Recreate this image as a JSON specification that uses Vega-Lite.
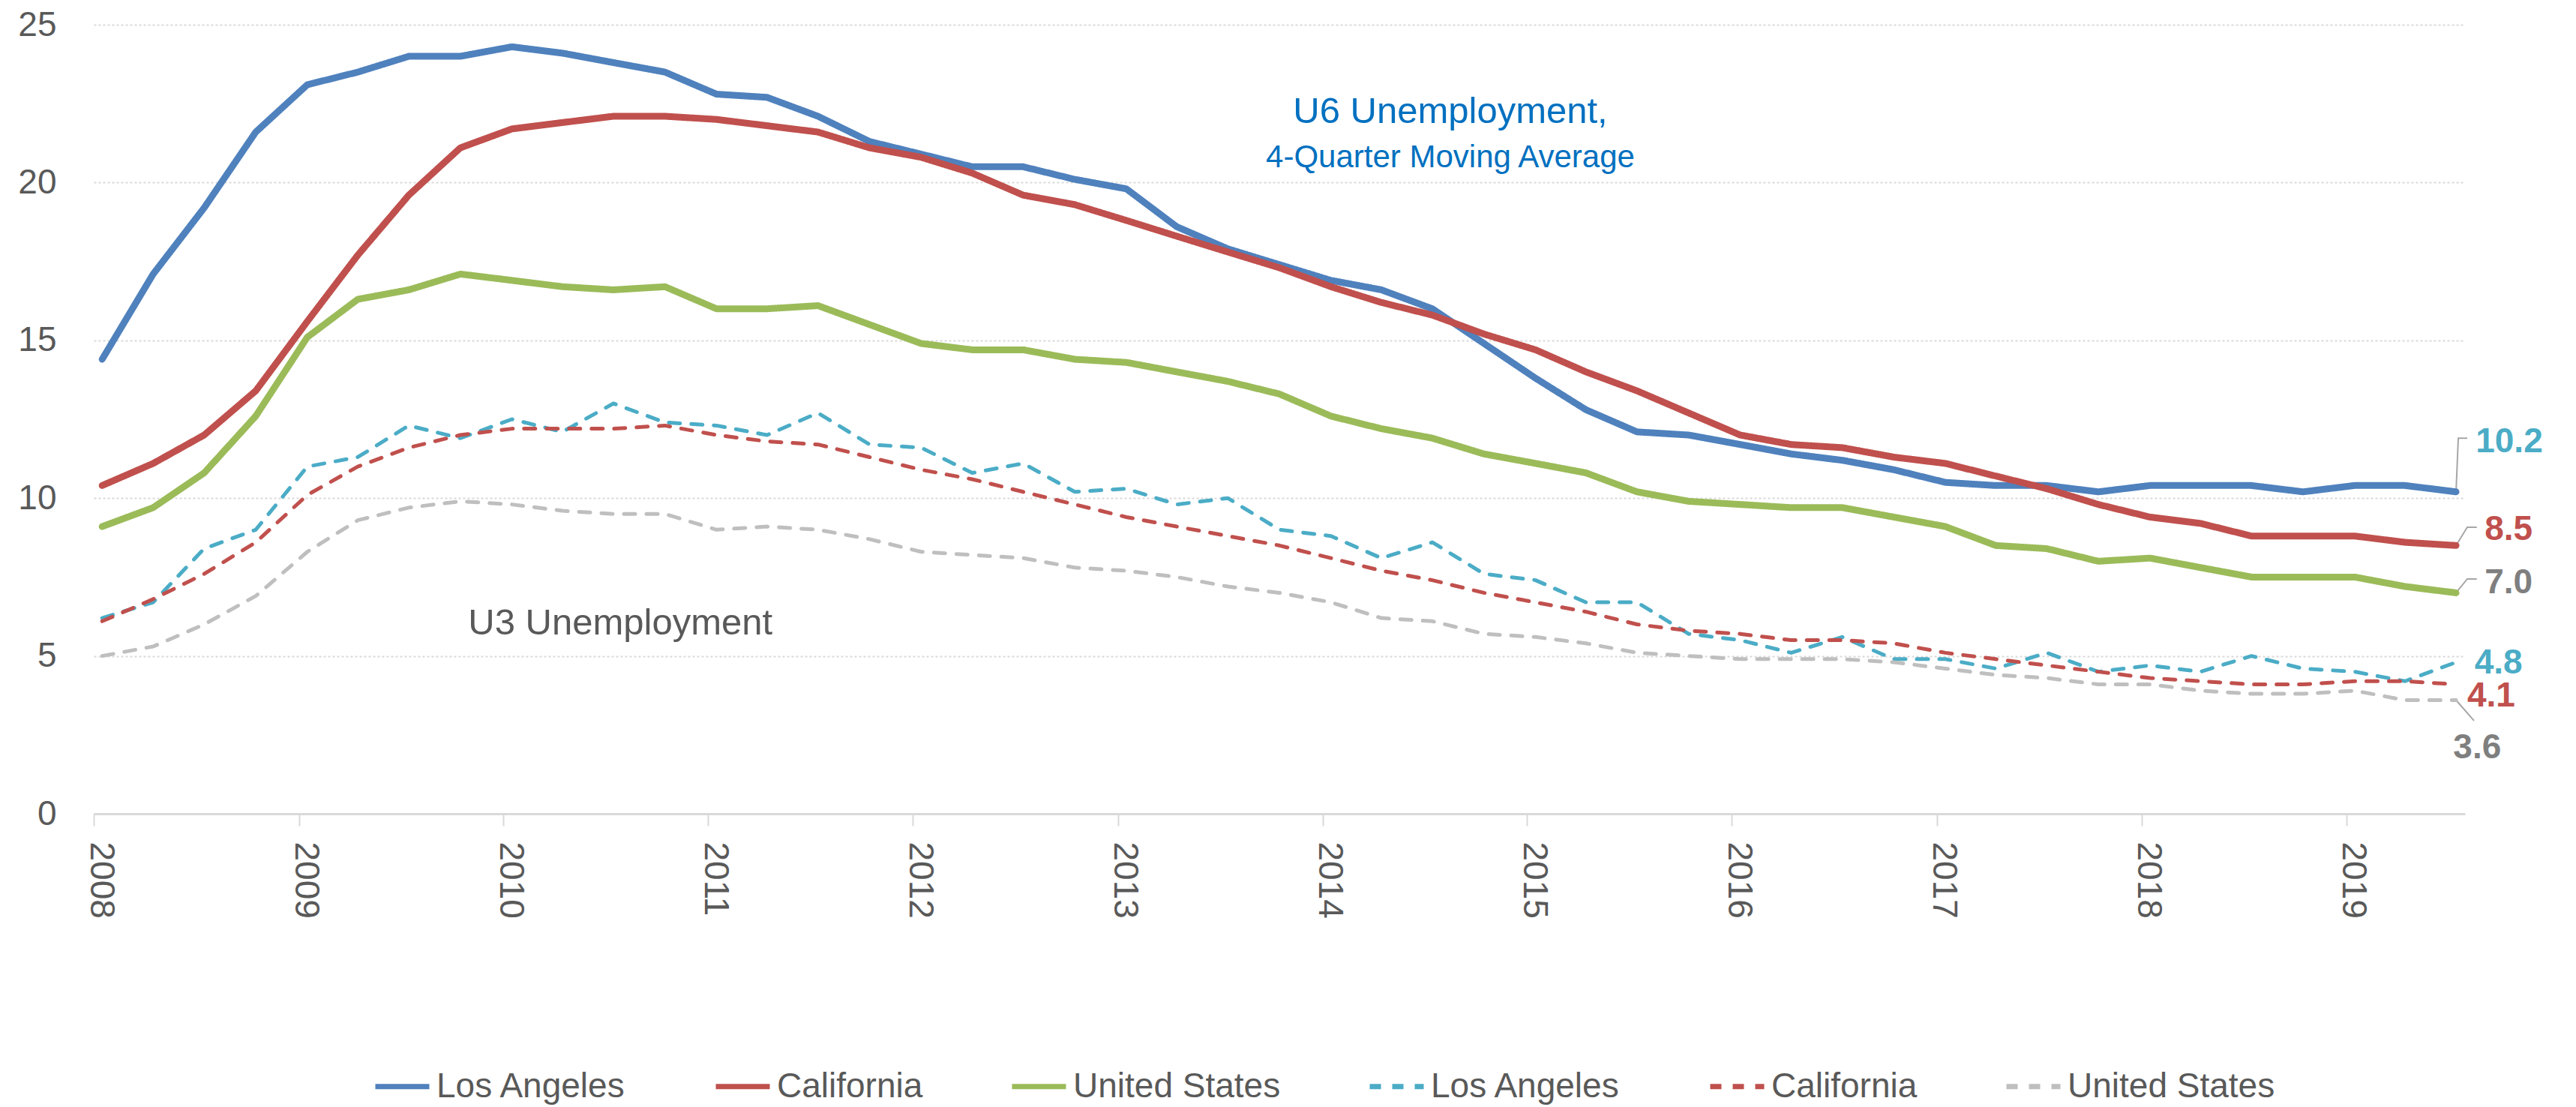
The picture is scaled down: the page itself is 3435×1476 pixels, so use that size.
{
"$schema": "https://vega.github.io/schema/vega-lite/v6.json",
"width": 3162,
"height": 1052,
"autosize": {"type": "none"},
"padding": {"left": 125, "top": 33, "right": 148, "bottom": 391},
"background": "white",
"config": {"view": {"stroke": null}, "font": "Liberation Sans"},
"encoding": {
  "x": {"field": "d", "type": "temporal",
    "scale": {"type": "utc", "domain": [{"year": 2008, "month": 1, "date": 1, "utc": true}, {"year": 2019, "month": 8, "date": 1, "utc": true}]},
    "axis": {"title": null, "format": "%Y", "values": [{"year": 2008, "utc": true}, {"year": 2009, "utc": true}, {"year": 2010, "utc": true}, {"year": 2011, "utc": true}, {"year": 2012, "utc": true}, {"year": 2013, "utc": true}, {"year": 2014, "utc": true}, {"year": 2015, "utc": true}, {"year": 2016, "utc": true}, {"year": 2017, "utc": true}, {"year": 2018, "utc": true}, {"year": 2019, "utc": true}], "labelAngle": 90, "labelFont": "Liberation Sans", "labelFontSize": 46, "labelColor": "#595959", "labelPadding": 21, "labelOffset": 9, "tickSize": 16, "tickColor": "#D9D9D9", "tickWidth": 2, "domainColor": "#D9D9D9", "domainWidth": 3, "grid": false, "labelOverlap": false, "labelFlush": false, "labelBound": false}},
  "y": {"field": "v", "type": "quantitative",
    "scale": {"domain": [0, 25], "nice": false},
    "axis": {"title": null, "values": [0, 5, 10, 15, 20, 25], "domain": false, "ticks": false, "labelPadding": 50, "labelFont": "Liberation Sans", "labelFontSize": 46, "labelColor": "#595959", "gridColor": "#D9D9D9", "gridDash": [3, 3], "gridWidth": 2}}
},
"layer": [
{
  "data": {"values": [
    {"k": "a", "d": "2019-07-16", "v": 10.2}, {"k": "a", "d": "2019-07-20", "v": 11.9}, {"k": "a", "d": "2019-08-05", "v": 11.9},
    {"k": "b", "d": "2019-07-16", "v": 8.5}, {"k": "b", "d": "2019-08-05", "v": 9.08}, {"k": "b", "d": "2019-08-22", "v": 9.08},
    {"k": "c", "d": "2019-07-16", "v": 7.0}, {"k": "c", "d": "2019-08-05", "v": 7.44}, {"k": "c", "d": "2019-08-22", "v": 7.44},
    {"k": "e", "d": "2019-07-16", "v": 3.6}, {"k": "e", "d": "2019-08-17", "v": 2.95}
  ]},
  "mark": {"type": "line", "color": "#A6A6A6", "strokeWidth": 2},
  "encoding": {"detail": {"field": "k"}}
},
{
  "data": {"values": [
{"d":"2008-01-16","s":"LA U6","v":14.4},{"d":"2008-04-16","s":"LA U6","v":17.1},{"d":"2008-07-16","s":"LA U6","v":19.2},{"d":"2008-10-16","s":"LA U6","v":21.6},
{"d":"2009-01-16","s":"LA U6","v":23.1},{"d":"2009-04-16","s":"LA U6","v":23.5},{"d":"2009-07-16","s":"LA U6","v":24.0},{"d":"2009-10-16","s":"LA U6","v":24.0},
{"d":"2010-01-16","s":"LA U6","v":24.3},{"d":"2010-04-16","s":"LA U6","v":24.1},{"d":"2010-07-16","s":"LA U6","v":23.8},{"d":"2010-10-16","s":"LA U6","v":23.5},
{"d":"2011-01-16","s":"LA U6","v":22.8},{"d":"2011-04-16","s":"LA U6","v":22.7},{"d":"2011-07-16","s":"LA U6","v":22.1},{"d":"2011-10-16","s":"LA U6","v":21.3},
{"d":"2012-01-16","s":"LA U6","v":20.9},{"d":"2012-04-16","s":"LA U6","v":20.5},{"d":"2012-07-16","s":"LA U6","v":20.5},{"d":"2012-10-16","s":"LA U6","v":20.1},
{"d":"2013-01-16","s":"LA U6","v":19.8},{"d":"2013-04-16","s":"LA U6","v":18.6},{"d":"2013-07-16","s":"LA U6","v":17.9},{"d":"2013-10-16","s":"LA U6","v":17.4},
{"d":"2014-01-16","s":"LA U6","v":16.9},{"d":"2014-04-16","s":"LA U6","v":16.6},{"d":"2014-07-16","s":"LA U6","v":16.0},{"d":"2014-10-16","s":"LA U6","v":14.9},
{"d":"2015-01-16","s":"LA U6","v":13.8},{"d":"2015-04-16","s":"LA U6","v":12.8},{"d":"2015-07-16","s":"LA U6","v":12.1},{"d":"2015-10-16","s":"LA U6","v":12.0},
{"d":"2016-01-16","s":"LA U6","v":11.7},{"d":"2016-04-16","s":"LA U6","v":11.4},{"d":"2016-07-16","s":"LA U6","v":11.2},{"d":"2016-10-16","s":"LA U6","v":10.9},
{"d":"2017-01-16","s":"LA U6","v":10.5},{"d":"2017-04-16","s":"LA U6","v":10.4},{"d":"2017-07-16","s":"LA U6","v":10.4},{"d":"2017-10-16","s":"LA U6","v":10.2},
{"d":"2018-01-16","s":"LA U6","v":10.4},{"d":"2018-04-16","s":"LA U6","v":10.4},{"d":"2018-07-16","s":"LA U6","v":10.4},{"d":"2018-10-16","s":"LA U6","v":10.2},
{"d":"2019-01-16","s":"LA U6","v":10.4},{"d":"2019-04-16","s":"LA U6","v":10.4},{"d":"2019-07-16","s":"LA U6","v":10.2},
{"d":"2008-01-16","s":"CA U6","v":10.4},{"d":"2008-04-16","s":"CA U6","v":11.1},{"d":"2008-07-16","s":"CA U6","v":12.0},{"d":"2008-10-16","s":"CA U6","v":13.4},
{"d":"2009-01-16","s":"CA U6","v":15.6},{"d":"2009-04-16","s":"CA U6","v":17.7},{"d":"2009-07-16","s":"CA U6","v":19.6},{"d":"2009-10-16","s":"CA U6","v":21.1},
{"d":"2010-01-16","s":"CA U6","v":21.7},{"d":"2010-04-16","s":"CA U6","v":21.9},{"d":"2010-07-16","s":"CA U6","v":22.1},{"d":"2010-10-16","s":"CA U6","v":22.1},
{"d":"2011-01-16","s":"CA U6","v":22.0},{"d":"2011-04-16","s":"CA U6","v":21.8},{"d":"2011-07-16","s":"CA U6","v":21.6},{"d":"2011-10-16","s":"CA U6","v":21.1},
{"d":"2012-01-16","s":"CA U6","v":20.8},{"d":"2012-04-16","s":"CA U6","v":20.3},{"d":"2012-07-16","s":"CA U6","v":19.6},{"d":"2012-10-16","s":"CA U6","v":19.3},
{"d":"2013-01-16","s":"CA U6","v":18.8},{"d":"2013-04-16","s":"CA U6","v":18.3},{"d":"2013-07-16","s":"CA U6","v":17.8},{"d":"2013-10-16","s":"CA U6","v":17.3},
{"d":"2014-01-16","s":"CA U6","v":16.7},{"d":"2014-04-16","s":"CA U6","v":16.2},{"d":"2014-07-16","s":"CA U6","v":15.8},{"d":"2014-10-16","s":"CA U6","v":15.2},
{"d":"2015-01-16","s":"CA U6","v":14.7},{"d":"2015-04-16","s":"CA U6","v":14.0},{"d":"2015-07-16","s":"CA U6","v":13.4},{"d":"2015-10-16","s":"CA U6","v":12.7},
{"d":"2016-01-16","s":"CA U6","v":12.0},{"d":"2016-04-16","s":"CA U6","v":11.7},{"d":"2016-07-16","s":"CA U6","v":11.6},{"d":"2016-10-16","s":"CA U6","v":11.3},
{"d":"2017-01-16","s":"CA U6","v":11.1},{"d":"2017-04-16","s":"CA U6","v":10.7},{"d":"2017-07-16","s":"CA U6","v":10.3},{"d":"2017-10-16","s":"CA U6","v":9.8},
{"d":"2018-01-16","s":"CA U6","v":9.4},{"d":"2018-04-16","s":"CA U6","v":9.2},{"d":"2018-07-16","s":"CA U6","v":8.8},{"d":"2018-10-16","s":"CA U6","v":8.8},
{"d":"2019-01-16","s":"CA U6","v":8.8},{"d":"2019-04-16","s":"CA U6","v":8.6},{"d":"2019-07-16","s":"CA U6","v":8.5},
{"d":"2008-01-16","s":"US U6","v":9.1},{"d":"2008-04-16","s":"US U6","v":9.7},{"d":"2008-07-16","s":"US U6","v":10.8},{"d":"2008-10-16","s":"US U6","v":12.6},
{"d":"2009-01-16","s":"US U6","v":15.1},{"d":"2009-04-16","s":"US U6","v":16.3},{"d":"2009-07-16","s":"US U6","v":16.6},{"d":"2009-10-16","s":"US U6","v":17.1},
{"d":"2010-01-16","s":"US U6","v":16.9},{"d":"2010-04-16","s":"US U6","v":16.7},{"d":"2010-07-16","s":"US U6","v":16.6},{"d":"2010-10-16","s":"US U6","v":16.7},
{"d":"2011-01-16","s":"US U6","v":16.0},{"d":"2011-04-16","s":"US U6","v":16.0},{"d":"2011-07-16","s":"US U6","v":16.1},{"d":"2011-10-16","s":"US U6","v":15.5},
{"d":"2012-01-16","s":"US U6","v":14.9},{"d":"2012-04-16","s":"US U6","v":14.7},{"d":"2012-07-16","s":"US U6","v":14.7},{"d":"2012-10-16","s":"US U6","v":14.4},
{"d":"2013-01-16","s":"US U6","v":14.3},{"d":"2013-04-16","s":"US U6","v":14.0},{"d":"2013-07-16","s":"US U6","v":13.7},{"d":"2013-10-16","s":"US U6","v":13.3},
{"d":"2014-01-16","s":"US U6","v":12.6},{"d":"2014-04-16","s":"US U6","v":12.2},{"d":"2014-07-16","s":"US U6","v":11.9},{"d":"2014-10-16","s":"US U6","v":11.4},
{"d":"2015-01-16","s":"US U6","v":11.1},{"d":"2015-04-16","s":"US U6","v":10.8},{"d":"2015-07-16","s":"US U6","v":10.2},{"d":"2015-10-16","s":"US U6","v":9.9},
{"d":"2016-01-16","s":"US U6","v":9.8},{"d":"2016-04-16","s":"US U6","v":9.7},{"d":"2016-07-16","s":"US U6","v":9.7},{"d":"2016-10-16","s":"US U6","v":9.4},
{"d":"2017-01-16","s":"US U6","v":9.1},{"d":"2017-04-16","s":"US U6","v":8.5},{"d":"2017-07-16","s":"US U6","v":8.4},{"d":"2017-10-16","s":"US U6","v":8.0},
{"d":"2018-01-16","s":"US U6","v":8.1},{"d":"2018-04-16","s":"US U6","v":7.8},{"d":"2018-07-16","s":"US U6","v":7.5},{"d":"2018-10-16","s":"US U6","v":7.5},
{"d":"2019-01-16","s":"US U6","v":7.5},{"d":"2019-04-16","s":"US U6","v":7.2},{"d":"2019-07-16","s":"US U6","v":7.0},
{"d":"2008-01-16","s":"LA U3","v":6.2},{"d":"2008-04-16","s":"LA U3","v":6.7},{"d":"2008-07-16","s":"LA U3","v":8.4},{"d":"2008-10-16","s":"LA U3","v":9.0},
{"d":"2009-01-16","s":"LA U3","v":11.0},{"d":"2009-04-16","s":"LA U3","v":11.3},{"d":"2009-07-16","s":"LA U3","v":12.3},{"d":"2009-10-16","s":"LA U3","v":11.9},
{"d":"2010-01-16","s":"LA U3","v":12.5},{"d":"2010-04-16","s":"LA U3","v":12.1},{"d":"2010-07-16","s":"LA U3","v":13.0},{"d":"2010-10-16","s":"LA U3","v":12.4},
{"d":"2011-01-16","s":"LA U3","v":12.3},{"d":"2011-04-16","s":"LA U3","v":12.0},{"d":"2011-07-16","s":"LA U3","v":12.7},{"d":"2011-10-16","s":"LA U3","v":11.7},
{"d":"2012-01-16","s":"LA U3","v":11.6},{"d":"2012-04-16","s":"LA U3","v":10.8},{"d":"2012-07-16","s":"LA U3","v":11.1},{"d":"2012-10-16","s":"LA U3","v":10.2},
{"d":"2013-01-16","s":"LA U3","v":10.3},{"d":"2013-04-16","s":"LA U3","v":9.8},{"d":"2013-07-16","s":"LA U3","v":10.0},{"d":"2013-10-16","s":"LA U3","v":9.0},
{"d":"2014-01-16","s":"LA U3","v":8.8},{"d":"2014-04-16","s":"LA U3","v":8.1},{"d":"2014-07-16","s":"LA U3","v":8.6},{"d":"2014-10-16","s":"LA U3","v":7.6},
{"d":"2015-01-16","s":"LA U3","v":7.4},{"d":"2015-04-16","s":"LA U3","v":6.7},{"d":"2015-07-16","s":"LA U3","v":6.7},{"d":"2015-10-16","s":"LA U3","v":5.7},
{"d":"2016-01-16","s":"LA U3","v":5.5},{"d":"2016-04-16","s":"LA U3","v":5.1},{"d":"2016-07-16","s":"LA U3","v":5.6},{"d":"2016-10-16","s":"LA U3","v":4.9},
{"d":"2017-01-16","s":"LA U3","v":4.9},{"d":"2017-04-16","s":"LA U3","v":4.6},{"d":"2017-07-16","s":"LA U3","v":5.1},{"d":"2017-10-16","s":"LA U3","v":4.5},
{"d":"2018-01-16","s":"LA U3","v":4.7},{"d":"2018-04-16","s":"LA U3","v":4.5},{"d":"2018-07-16","s":"LA U3","v":5.0},{"d":"2018-10-16","s":"LA U3","v":4.6},
{"d":"2019-01-16","s":"LA U3","v":4.5},{"d":"2019-04-16","s":"LA U3","v":4.2},{"d":"2019-07-16","s":"LA U3","v":4.8},
{"d":"2008-01-16","s":"CA U3","v":6.1},{"d":"2008-04-16","s":"CA U3","v":6.8},{"d":"2008-07-16","s":"CA U3","v":7.6},{"d":"2008-10-16","s":"CA U3","v":8.6},
{"d":"2009-01-16","s":"CA U3","v":10.1},{"d":"2009-04-16","s":"CA U3","v":11.0},{"d":"2009-07-16","s":"CA U3","v":11.6},{"d":"2009-10-16","s":"CA U3","v":12.0},
{"d":"2010-01-16","s":"CA U3","v":12.2},{"d":"2010-04-16","s":"CA U3","v":12.2},{"d":"2010-07-16","s":"CA U3","v":12.2},{"d":"2010-10-16","s":"CA U3","v":12.3},
{"d":"2011-01-16","s":"CA U3","v":12.0},{"d":"2011-04-16","s":"CA U3","v":11.8},{"d":"2011-07-16","s":"CA U3","v":11.7},{"d":"2011-10-16","s":"CA U3","v":11.3},
{"d":"2012-01-16","s":"CA U3","v":10.9},{"d":"2012-04-16","s":"CA U3","v":10.6},{"d":"2012-07-16","s":"CA U3","v":10.2},{"d":"2012-10-16","s":"CA U3","v":9.8},
{"d":"2013-01-16","s":"CA U3","v":9.4},{"d":"2013-04-16","s":"CA U3","v":9.1},{"d":"2013-07-16","s":"CA U3","v":8.8},{"d":"2013-10-16","s":"CA U3","v":8.5},
{"d":"2014-01-16","s":"CA U3","v":8.1},{"d":"2014-04-16","s":"CA U3","v":7.7},{"d":"2014-07-16","s":"CA U3","v":7.4},{"d":"2014-10-16","s":"CA U3","v":7.0},
{"d":"2015-01-16","s":"CA U3","v":6.7},{"d":"2015-04-16","s":"CA U3","v":6.4},{"d":"2015-07-16","s":"CA U3","v":6.0},{"d":"2015-10-16","s":"CA U3","v":5.8},
{"d":"2016-01-16","s":"CA U3","v":5.7},{"d":"2016-04-16","s":"CA U3","v":5.5},{"d":"2016-07-16","s":"CA U3","v":5.5},{"d":"2016-10-16","s":"CA U3","v":5.4},
{"d":"2017-01-16","s":"CA U3","v":5.1},{"d":"2017-04-16","s":"CA U3","v":4.9},{"d":"2017-07-16","s":"CA U3","v":4.7},{"d":"2017-10-16","s":"CA U3","v":4.5},
{"d":"2018-01-16","s":"CA U3","v":4.3},{"d":"2018-04-16","s":"CA U3","v":4.2},{"d":"2018-07-16","s":"CA U3","v":4.1},{"d":"2018-10-16","s":"CA U3","v":4.1},
{"d":"2019-01-16","s":"CA U3","v":4.2},{"d":"2019-04-16","s":"CA U3","v":4.2},{"d":"2019-07-16","s":"CA U3","v":4.1},
{"d":"2008-01-16","s":"US U3","v":5.0},{"d":"2008-04-16","s":"US U3","v":5.3},{"d":"2008-07-16","s":"US U3","v":6.0},{"d":"2008-10-16","s":"US U3","v":6.9},
{"d":"2009-01-16","s":"US U3","v":8.3},{"d":"2009-04-16","s":"US U3","v":9.3},{"d":"2009-07-16","s":"US U3","v":9.7},{"d":"2009-10-16","s":"US U3","v":9.9},
{"d":"2010-01-16","s":"US U3","v":9.8},{"d":"2010-04-16","s":"US U3","v":9.6},{"d":"2010-07-16","s":"US U3","v":9.5},{"d":"2010-10-16","s":"US U3","v":9.5},
{"d":"2011-01-16","s":"US U3","v":9.0},{"d":"2011-04-16","s":"US U3","v":9.1},{"d":"2011-07-16","s":"US U3","v":9.0},{"d":"2011-10-16","s":"US U3","v":8.7},
{"d":"2012-01-16","s":"US U3","v":8.3},{"d":"2012-04-16","s":"US U3","v":8.2},{"d":"2012-07-16","s":"US U3","v":8.1},{"d":"2012-10-16","s":"US U3","v":7.8},
{"d":"2013-01-16","s":"US U3","v":7.7},{"d":"2013-04-16","s":"US U3","v":7.5},{"d":"2013-07-16","s":"US U3","v":7.2},{"d":"2013-10-16","s":"US U3","v":7.0},
{"d":"2014-01-16","s":"US U3","v":6.7},{"d":"2014-04-16","s":"US U3","v":6.2},{"d":"2014-07-16","s":"US U3","v":6.1},{"d":"2014-10-16","s":"US U3","v":5.7},
{"d":"2015-01-16","s":"US U3","v":5.6},{"d":"2015-04-16","s":"US U3","v":5.4},{"d":"2015-07-16","s":"US U3","v":5.1},{"d":"2015-10-16","s":"US U3","v":5.0},
{"d":"2016-01-16","s":"US U3","v":4.9},{"d":"2016-04-16","s":"US U3","v":4.9},{"d":"2016-07-16","s":"US U3","v":4.9},{"d":"2016-10-16","s":"US U3","v":4.8},
{"d":"2017-01-16","s":"US U3","v":4.6},{"d":"2017-04-16","s":"US U3","v":4.4},{"d":"2017-07-16","s":"US U3","v":4.3},{"d":"2017-10-16","s":"US U3","v":4.1},
{"d":"2018-01-16","s":"US U3","v":4.1},{"d":"2018-04-16","s":"US U3","v":3.9},{"d":"2018-07-16","s":"US U3","v":3.8},{"d":"2018-10-16","s":"US U3","v":3.8},
{"d":"2019-01-16","s":"US U3","v":3.9},{"d":"2019-04-16","s":"US U3","v":3.6},{"d":"2019-07-16","s":"US U3","v":3.6}
  ]},
  "mark": {"type": "line", "strokeCap": "round", "strokeJoin": "round"},
  "encoding": {
    "color": {"field": "s", "type": "nominal",
      "scale": {"domain": ["LA U6", "CA U6", "US U6", "LA U3", "CA U3", "US U3"], "range": ["#4F81BD", "#C0504D", "#9BBB59", "#4BACC6", "#C0504D", "#BFBFBF"]},
      "legend": {"title": null, "orient": "none", "legendX": 372, "legendY": 1376, "direction": "horizontal", "symbolType": "stroke", "symbolSize": 5184, "symbolStrokeWidth": 7, "labelFont": "Liberation Sans", "labelFontSize": 46, "labelColor": "#595959", "labelOffset": 6, "columnPadding": 104, "labelLimit": 600, "padding": 0,
        "labelExpr": "slice(datum.label,0,2)=='LA' ? 'Los Angeles' : (slice(datum.label,0,2)=='CA' ? 'California' : 'United States')"}},
    "strokeDash": {"field": "s", "type": "nominal",
      "scale": {"domain": ["LA U6", "CA U6", "US U6", "LA U3", "CA U3", "US U3"], "range": [[1, 0], [1, 0], [1, 0], [15, 15], [15, 15], [15, 15]]},
      "legend": {"title": null, "orient": "none", "legendX": 372, "legendY": 1376, "direction": "horizontal", "symbolType": "stroke", "symbolSize": 5184, "symbolStrokeWidth": 7, "labelFont": "Liberation Sans", "labelFontSize": 46, "labelColor": "#595959", "labelOffset": 6, "columnPadding": 104, "labelLimit": 600, "padding": 0,
        "labelExpr": "slice(datum.label,0,2)=='LA' ? 'Los Angeles' : (slice(datum.label,0,2)=='CA' ? 'California' : 'United States')"}},
    "strokeWidth": {"condition": {"test": "indexof(datum.s,'U3')>=0", "value": 5}, "value": 9}
  }
},
{
  "data": {"values": [
    {"d": "2019-08-20", "v": 11.45, "t": "10.2", "g": "LA"},
    {"d": "2019-09-05", "v": 8.67, "t": "8.5", "g": "CA"},
    {"d": "2019-09-05", "v": 6.99, "t": "7.0", "g": "US"},
    {"d": "2019-08-18", "v": 4.44, "t": "4.8", "g": "LA"},
    {"d": "2019-08-05", "v": 3.40, "t": "4.1", "g": "CA"},
    {"d": "2019-07-11", "v": 1.76, "t": "3.6", "g": "US"}
  ]},
  "mark": {"type": "text", "align": "left", "baseline": "alphabetic", "font": "Liberation Sans", "fontSize": 46, "fontWeight": "bold"},
  "encoding": {
    "text": {"field": "t"},
    "color": {"condition": [{"test": "datum.g==='LA'", "value": "#4BACC6"}, {"test": "datum.g==='CA'", "value": "#C0504D"}], "value": "#7F7F7F"}
  }
},
{
  "data": {"values": [{"d": "2014-08-17", "v": 21.89, "t": "U6 Unemployment,"}]},
  "mark": {"type": "text", "align": "center", "baseline": "alphabetic", "font": "Liberation Sans", "fontSize": 49, "color": "#0070C0"},
  "encoding": {"text": {"field": "t"}}
},
{
  "data": {"values": [{"d": "2014-08-17", "v": 20.48, "t": "4-Quarter Moving Average"}]},
  "mark": {"type": "text", "align": "center", "baseline": "alphabetic", "font": "Liberation Sans", "fontSize": 42, "color": "#0070C0"},
  "encoding": {"text": {"field": "t"}}
},
{
  "data": {"values": [{"d": "2009-10-30", "v": 5.68, "t": "U3 Unemployment"}]},
  "mark": {"type": "text", "align": "left", "baseline": "alphabetic", "font": "Liberation Sans", "fontSize": 49, "color": "#595959"},
  "encoding": {"text": {"field": "t"}}
}
]
}
